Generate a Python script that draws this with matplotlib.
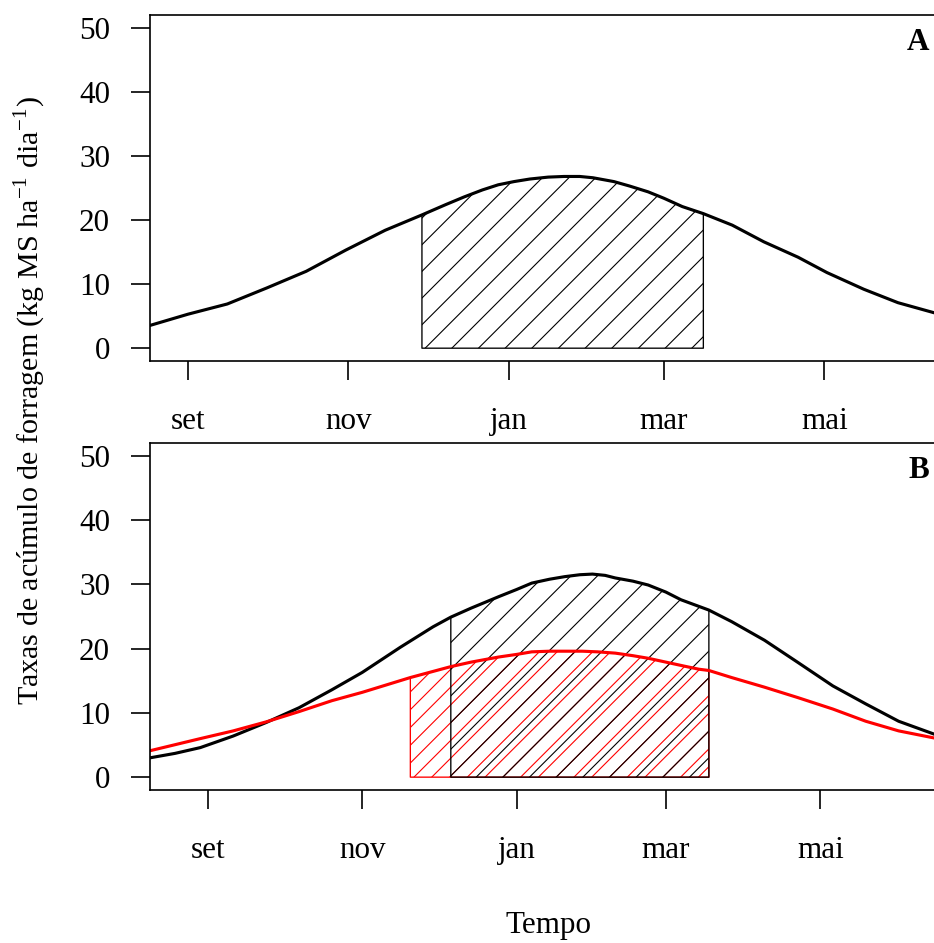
import matplotlib
matplotlib.use("Agg")
import matplotlib.pyplot as plt
import numpy as np

plt.rcParams['font.family'] = ['Liberation Serif', 'DejaVu Serif']
plt.rcParams['mathtext.fontset'] = 'stix'
plt.rcParams['hatch.linewidth'] = 0.5

# days counted from 1 September
month_days = [0, 61, 122, 181, 242]
month_labels = ["set", "nov", "jan", "mar", "mai"]

# panel A
days_a = [-14, 0, 15, 30, 45, 60, 75, 89, 98, 105, 112, 118, 124, 130, 137, 143, 149, 154, 158, 162, 168, 175, 181, 188, 196, 207, 219, 232, 243, 257, 270, 284]
rate_a = [3.6, 5.3, 6.9, 9.4, 12.0, 15.3, 18.4, 20.8, 22.4, 23.6, 24.7, 25.5, 26.0, 26.4, 26.7, 26.8, 26.8, 26.6, 26.3, 26.0, 25.3, 24.4, 23.4, 22.1, 21.0, 19.2, 16.6, 14.2, 11.8, 9.2, 7.1, 5.5]
period_a = (89, 196)

# panel B
days_b_black = [-23, -13, -3, 10, 23, 36, 49, 61, 76, 89, 96, 104, 115, 122, 128, 135, 141, 147, 152, 157, 161, 168, 174, 181, 187, 198, 207, 220, 233, 247, 260, 273, 287]
rate_b_black = [3.0, 3.7, 4.6, 6.4, 8.5, 10.8, 13.6, 16.3, 20.2, 23.4, 24.9, 26.3, 28.1, 29.2, 30.2, 30.8, 31.2, 31.5, 31.6, 31.4, 31.0, 30.5, 29.9, 28.8, 27.6, 26.0, 24.2, 21.3, 17.9, 14.2, 11.4, 8.7, 6.7]
period_b_black = (96, 198)

days_b_red = [-23, -3, 10, 23, 36, 49, 61, 80, 96, 104, 115, 122, 128, 135, 141, 148, 154, 161, 168, 174, 181, 188, 194, 198, 207, 220, 233, 247, 260, 273, 287]
rate_b_red = [4.1, 6.0, 7.2, 8.6, 10.2, 11.9, 13.2, 15.5, 17.2, 17.9, 18.7, 19.1, 19.5, 19.6, 19.6, 19.6, 19.5, 19.3, 18.9, 18.5, 17.9, 17.3, 16.8, 16.6, 15.5, 14.0, 12.4, 10.6, 8.7, 7.2, 6.1]
period_b_red = (80, 198)

W, H, DPI = 934, 943, 160
fig = plt.figure(figsize=(W / DPI, H / DPI), dpi=DPI)

ax_a = fig.add_axes([150 / W, 1 - 361 / H, (937 - 150) / W, (361 - 15) / H])
ax_b = fig.add_axes([150 / W, 1 - 790 / H, (937 - 150) / W, (790 - 443) / H])


def hatch_area(ax, d, r, period, color, hatch):
    d = np.array(d)
    r = np.array(r)
    m = (d >= period[0]) & (d <= period[1])
    ax.fill_between(d[m], 0, r[m], facecolor="none", edgecolor=color,
                    hatch=hatch, linewidth=0.6)


def style(ax, xlim):
    ax.set_xlim(*xlim)
    ax.set_ylim(-2, 52)
    ax.set_yticks([0, 10, 20, 30, 40, 50])
    ax.set_xticks(month_days)
    ax.set_xticklabels(month_labels)
    ax.tick_params(axis="y", length=8.5, width=0.75, pad=9.5, labelsize=14)
    ax.tick_params(axis="x", length=8.5, width=0.75, pad=12, labelsize=14)
    for s in ax.spines.values():
        s.set_linewidth(0.75)


hatch_area(ax_a, days_a, rate_a, period_a, "black", "//")
ax_a.plot(days_a, rate_a, color="black", linewidth=1.4)
style(ax_a, (-14.4, -14.4 + 787 / 2.63))

hatch_area(ax_b, days_b_red, rate_b_red, period_b_red, "red", "///")
hatch_area(ax_b, days_b_black, rate_b_black, period_b_black, "black", "//")
ax_b.plot(days_b_black, rate_b_black, color="black", linewidth=1.4)
ax_b.plot(days_b_red, rate_b_red, color="red", linewidth=1.4)
style(ax_b, (-22.9, -22.9 + 787 / 2.53))

fig.text(929 / W, 1 - 43 / H, "A", ha="right", va="center", fontsize=14, fontweight="bold")
fig.text(929 / W, 1 - 471 / H, "B", ha="right", va="center", fontsize=14, fontweight="bold")

fig.text(30 / W, 1 - 401 / H,
         "Taxas de acúmulo de forragem (kg MS ha$^{\\mathregular{-1}}$ dia$^{\\mathregular{-1}}$)",
         rotation=90, ha="center", va="center", fontsize=13.5)
fig.text(548 / W, 1 - 926 / H, "Tempo", ha="center", va="center", fontsize=14)

fig.savefig("out.png", dpi=DPI)
